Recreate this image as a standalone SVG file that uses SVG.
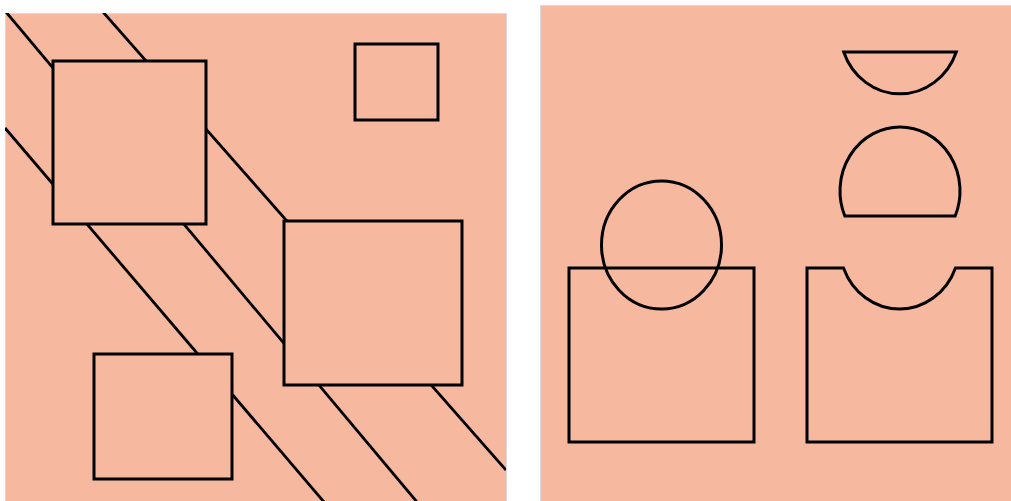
<svg xmlns="http://www.w3.org/2000/svg" width="1011" height="501" viewBox="0 0 1011 501">
  <style>
    .panel { fill: #F7B8A0; stroke: #d9d9d9; stroke-width: 1; }
    .shape { fill: #F7B8A0; stroke: #000; stroke-width: 3; }
    .outline { fill: none; stroke: #000; stroke-width: 3; }
    .line { fill: none; stroke: #000; stroke-width: 2.8; }
  </style>
  <defs>
    <clipPath id="leftClip"><rect x="5" y="13" width="501" height="488"/></clipPath>
  </defs>
  <rect width="1011" height="501" fill="#ffffff"/>
  <g id="left-panel">
    <rect class="panel" x="5.5" y="13.5" width="501" height="490"/>
    <g id="connectors" clip-path="url(#leftClip)">
      <line class="line" x1="6" y1="12" x2="417" y2="502"/>
      <line class="line" x1="103" y1="12" x2="506" y2="470"/>
      <line class="line" x1="5" y1="128" x2="324" y2="502"/>
    </g>
    <rect id="rect-a" class="shape" x="53" y="61" width="153" height="163"/>
    <rect id="rect-small" class="shape" x="355" y="44" width="83" height="76"/>
    <rect id="rect-big" class="shape" x="284" y="221" width="178" height="164"/>
    <rect id="rect-lower" class="shape" x="94" y="354" width="138" height="125"/>
  </g>
  <g id="right-panel">
    <rect class="panel" x="540.5" y="5.5" width="472" height="498"/>
    <g id="union-pair">
      <rect id="rect-square" class="outline" x="569" y="268" width="185" height="174"/>
      <ellipse id="circle" class="outline" cx="661.5" cy="245" rx="60" ry="64"/>
    </g>
    <path id="notched-rect" class="outline" d="M807,268 H843.5 A60,64 0 0 0 955.5,268 H992 V442 H807 Z"/>
    <path id="bowl" class="outline" d="M843.7,52 A60,64 0 0 0 956.3,52 Z"/>
    <path id="dome" class="outline" d="M844.8,216 A60,64 0 1 1 955.2,216 Z"/>
  </g>
</svg>
